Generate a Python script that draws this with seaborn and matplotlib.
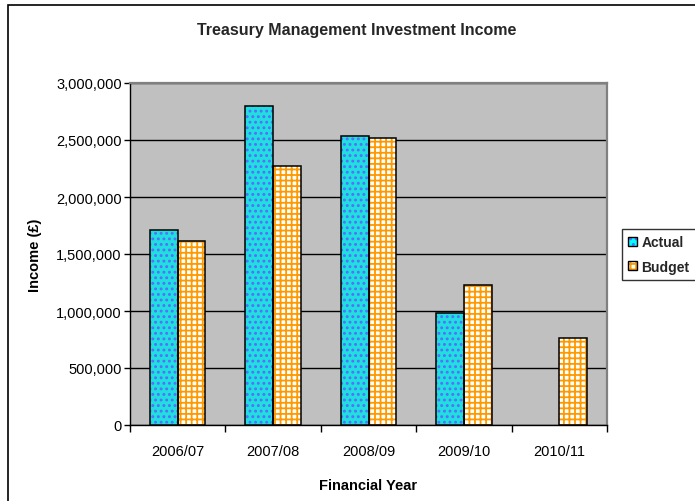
import numpy as np
import pandas as pd
import matplotlib
matplotlib.use("Agg")
import matplotlib.pyplot as plt
from matplotlib.patches import Rectangle, Patch
from matplotlib.legend_handler import HandlerTuple
from matplotlib.ticker import FuncFormatter, FixedLocator
import seaborn as sns

# Investment income by financial year (GBP)
years = ["2006/07", "2007/08", "2008/09", "2009/10", "2010/11"]
actual = [1711000, 2796000, 2535000, 985000, np.nan]
budget = [1614000, 2269000, 2520000, 1225000, 760000]
series = ["Actual", "Budget"]

df = pd.DataFrame({
    "Financial Year": years * 2,
    "Series": ["Actual"] * len(years) + ["Budget"] * len(years),
    "Income": actual + budget,
})

sns.set_theme(style="white")
plt.rcParams["font.family"] = ["Liberation Sans", "DejaVu Sans"]
plt.rcParams["hatch.linewidth"] = 1.3

fill = {"Actual": "#00FFFF", "Budget": "#FFFFFF"}
hatch_color = {"Actual": "#5A6BFF", "Budget": "#FF9900"}
hatch_style = {"Actual": "...", "Budget": "+++"}

W, H = 695, 502
fig = plt.figure(figsize=(W / 100, H / 100), dpi=100)
fig.patch.set_facecolor("white")
ax = fig.add_axes([130 / W, 1 - 426 / H, (607 - 130) / W, (426 - 84) / H])
ax.set_facecolor("#C0C0C0")

sns.barplot(data=df, x="Financial Year", y="Income", hue="Series",
            hue_order=series, palette=fill, width=0.58, gap=0,
            edgecolor="black", linewidth=0, ax=ax, legend=False, zorder=3)

# hatch each bar in its series colour, then outline it in black
for name, cont in zip(series, ax.containers):
    for bar in cont:
        h = bar.get_height()
        if not np.isfinite(h) or h == 0:
            continue
        bar.set_hatch(hatch_style[name])
        bar.set_edgecolor(hatch_color[name])
        bar.set_linewidth(0)
        x0, y0 = bar.get_xy()
        ax.add_patch(Rectangle((x0, y0), bar.get_width(), h, fill=False,
                               edgecolor="black", linewidth=1.1, zorder=4))

ax.set_ylim(0, 3000000)
ax.set_xlim(-0.5, len(years) - 0.5)
ax.yaxis.set_major_locator(FixedLocator(np.arange(0, 3000001, 500000)))
ax.yaxis.set_major_formatter(FuncFormatter(lambda v, p: f"{int(v):,}"))
ax.yaxis.grid(True, color="black", linewidth=1.0, zorder=0)
ax.set_axisbelow(True)

ax.tick_params(axis="y", direction="out", length=4, width=1, color="black",
               labelsize=10.5, pad=2, left=True)
ax.tick_params(axis="x", which="major", length=0, labelsize=10.5, pad=14)
ax.set_xticks(np.arange(-0.5, len(years), 1.0), minor=True)
ax.tick_params(axis="x", which="minor", direction="out", length=5, width=1,
               color="black", bottom=True)
for lab in ax.get_xticklabels() + ax.get_yticklabels():
    lab.set_color("black")

for side in ("left", "bottom"):
    ax.spines[side].set_color("black")
    ax.spines[side].set_linewidth(1.0)
for side in ("top", "right"):
    ax.spines[side].set_color("#808080")
    ax.spines[side].set_linewidth(1.6)

ax.set_xlabel("Financial Year", fontsize=10.5, fontweight="bold", labelpad=14)
ax.set_ylabel("Income (£)", fontsize=10.5, fontweight="bold", labelpad=10)
ax.xaxis.label.set_color("black")
ax.yaxis.label.set_color("black")

fig.text(357 / W, 1 - 31 / H, "Treasury Management Investment Income",
         ha="center", va="center", fontsize=11.5, fontweight="bold")

# legend: hatched swatch with a black outline
handles = []
for name in series:
    hp = Patch(facecolor=fill[name], edgecolor=hatch_color[name],
               hatch=hatch_style[name], linewidth=0)
    op = Patch(facecolor="none", edgecolor="black", linewidth=1.0)
    handles.append((hp, op))
leg = fig.legend(handles, series, handler_map={tuple: HandlerTuple(ndivide=1, pad=0)},
                 loc="upper left", bbox_to_anchor=(622 / W, 1 - 230 / H),
                 frameon=True, fancybox=False, fontsize=10,
                 handlelength=0.6, handleheight=0.6, handletextpad=0.35,
                 labelspacing=0.75, borderpad=0.45, borderaxespad=0)
leg.get_frame().set_edgecolor("black")
leg.get_frame().set_linewidth(1.0)
for t in leg.get_texts():
    t.set_fontweight("bold")

# outer chart border
fig.patches.append(Rectangle((8 / W, -0.1), 2, 1.1 - 6 / H, fill=False,
                             edgecolor="black", linewidth=1.2,
                             transform=fig.transFigure, figure=fig))

fig.savefig("out.png", dpi=100)
